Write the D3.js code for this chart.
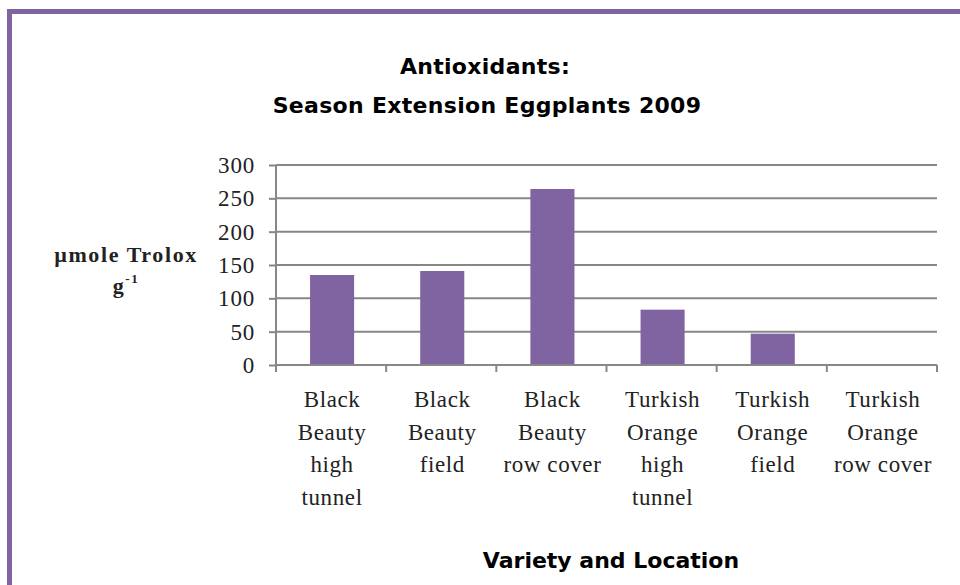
<!DOCTYPE html>
<html>
<head>
<meta charset="utf-8">
<script src="https://cdn.jsdelivr.net/npm/d3@7"></script>
<style>
  html, body { margin: 0; padding: 0; background: #fff; }
  svg { display: block; }
</style>
</head>
<body>
<svg id="chart" width="960" height="585"></svg>
<script>
// Category labels, one array of lines per bar
const categories = [
  ["Black", "Beauty", "high", "tunnel"],
  ["Black", "Beauty", "field"],
  ["Black", "Beauty", "row cover"],
  ["Turkish", "Orange", "high", "tunnel"],
  ["Turkish", "Orange", "field"],
  ["Turkish", "Orange", "row cover"]
];
// Antioxidant capacity (µmole Trolox per gram)
const values = [135, 141, 264, 83, 47, 0];
const yTicks = [0, 50, 100, 150, 200, 250, 300];

const titleLines = ["Antioxidants:", "Season Extension Eggplants 2009"];
const yTitle = "µmole Trolox";
const xTitle = "Variety and Location";

const purple = "#8064A2";
const grid = "#878787";
const serif = "'Liberation Serif', 'Times New Roman', serif";
const sans = "'DejaVu Sans', Verdana, sans-serif";

const svg = d3.select("#chart");

// Frame: purple rule along the top and left edges
svg.append("path")
  .attr("d", "M9.5,960 V11.5 H960")
  .attr("fill", "none")
  .attr("stroke", purple)
  .attr("stroke-width", 5);

const plot = { left: 276, right: 937, top: 165, bottom: 365 };

const x = d3.scaleBand()
  .domain(d3.range(categories.length))
  .range([plot.left, plot.right])
  .paddingInner(0.6)
  .paddingOuter(0.3);

const y = d3.scaleLinear()
  .domain([0, 300])
  .range([plot.bottom, plot.top]);

// Horizontal gridlines
svg.append("g")
  .selectAll("line")
  .data(yTicks.filter(d => d > 0))
  .join("line")
  .attr("x1", plot.left)
  .attr("x2", plot.right)
  .attr("y1", d => y(d))
  .attr("y2", d => y(d))
  .attr("stroke", grid)
  .attr("stroke-width", 2);

// Bars
svg.append("g")
  .selectAll("rect")
  .data(values)
  .join("rect")
  .attr("x", (d, i) => x(i) + 1)
  .attr("width", x.bandwidth())
  .attr("y", d => y(d))
  .attr("height", d => y(0) - y(d))
  .attr("fill", purple);

// Y axis
const yAxis = svg.append("g")
  .attr("transform", `translate(${plot.left},0)`)
  .call(d3.axisLeft(y).tickValues(yTicks).tickSize(7).tickPadding(14).tickSizeOuter(0));
yAxis.select(".domain").attr("stroke", grid).attr("stroke-width", 2)
  .attr("d", `M0,${plot.top}V${plot.bottom + 7}`);
yAxis.selectAll(".tick line").attr("stroke", grid).attr("stroke-width", 2);
yAxis.selectAll(".tick text")
  .attr("fill", "#222")
  .style("font-family", serif)
  .style("font-size", "23px")
  .style("letter-spacing", "0.8px");

// X axis: boundary ticks between categories
const boundaries = d3.range(categories.length + 1)
  .map(i => plot.left + i * (plot.right - plot.left) / categories.length);
const xAxis = svg.append("g");
xAxis.append("line")
  .attr("x1", plot.left).attr("x2", plot.right)
  .attr("y1", plot.bottom).attr("y2", plot.bottom)
  .attr("stroke", grid).attr("stroke-width", 2);
xAxis.selectAll(".bt")
  .data(boundaries)
  .join("line")
  .attr("class", "bt")
  .attr("x1", d => d).attr("x2", d => d)
  .attr("y1", plot.bottom).attr("y2", plot.bottom + 7)
  .attr("stroke", grid).attr("stroke-width", 2);

// Category labels
const lab = svg.append("g")
  .style("font-family", serif)
  .style("font-size", "23px")
  .style("letter-spacing", "0.6px")
  .attr("fill", "#222")
  .attr("text-anchor", "middle");
categories.forEach((lines, i) => {
  const cx = x(i) + x.bandwidth() / 2 + 1;
  const t = lab.append("text").attr("x", cx).attr("y", 407);
  lines.forEach((ln, j) => {
    t.append("tspan").attr("x", cx).attr("y", 407 + j * 32.5).text(ln);
  });
});

// Title
svg.append("g")
  .attr("text-anchor", "middle")
  .style("font-family", sans)
  .style("font-weight", "bold")
  .style("font-size", "22px")
  .style("letter-spacing", "0.3px")
  .attr("fill", "#000")
  .selectAll("text")
  .data(titleLines)
  .join("text")
  .attr("x", (d, i) => i === 0 ? 485 : 487)
  .attr("y", (d, i) => 74 + i * 39)
  .text(d => d);

// Y axis title
const yt = svg.append("g")
  .attr("text-anchor", "middle")
  .style("font-family", serif)
  .style("font-weight", "bold")
  .style("font-size", "22px")
  .style("letter-spacing", "1.6px")
  .attr("fill", "#222");
yt.append("text").attr("x", 126).attr("y", 262).text(yTitle);
const g1 = yt.append("text").attr("x", 126).attr("y", 293);
g1.append("tspan").text("g");
g1.append("tspan").attr("dy", -10).style("font-size", "13px").text("-1");

// X axis title
svg.append("text")
  .attr("x", 611)
  .attr("y", 568)
  .attr("text-anchor", "middle")
  .style("font-family", sans)
  .style("font-weight", "bold")
  .style("font-size", "22px")
  .attr("fill", "#000")
  .text(xTitle);
</script>
</body>
</html>
